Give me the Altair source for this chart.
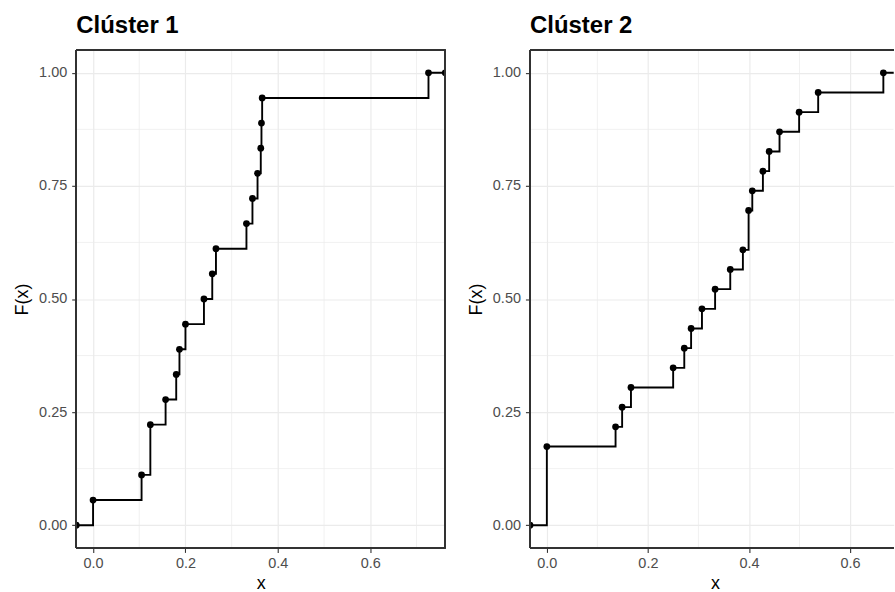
import altair as alt
import pandas as pd

# Sample values for each cluster
cluster1_values = [0.0, 0.105, 0.124, 0.124, 0.157, 0.180, 0.187, 0.200, 0.240,
                   0.258, 0.266, 0.332, 0.345, 0.356, 0.363, 0.3645, 0.366, 0.726]
cluster2_values = [0.0, 0.0, 0.0, 0.0, 0.136, 0.149, 0.1665, 0.250, 0.272, 0.2855,
                   0.307, 0.333, 0.363, 0.388, 0.3993, 0.3993, 0.4066, 0.4276,
                   0.440, 0.4605, 0.4993, 0.537, 0.666]
panel_titles = ["Clúster 1", "Clúster 2"]

x_major = [0.0, 0.2, 0.4, 0.6]
x_minor = [0.1, 0.3, 0.5, 0.7]
y_major = [0.0, 0.25, 0.5, 0.75, 1.0]
y_minor = [0.125, 0.375, 0.625, 0.875]

FONT = "Liberation Sans"
H = 499
BORDER = "#333333"


def ecdf_table(vals):
    s = sorted(vals)
    n = len(s)
    lo_v, hi_v = s[0], s[-1]
    ext = 0.05 * (hi_v - lo_v)
    lo, hi = lo_v - ext, hi_v + ext
    uniq = sorted(set(s))
    rows = [{"x": lo, "F": 0.0}]
    for u in uniq:
        rows.append({"x": u, "F": sum(1 for v in s if v <= u) / n})
    rows.append({"x": hi, "F": 1.0})
    return pd.DataFrame(rows), lo, hi


def panel(vals, title, full_width, shown_width):
    df, lo, hi = ecdf_table(vals)
    # the right panel is cut by the picture's edge, as in the reference
    x_max = lo + (hi - lo) * shown_width / full_width
    xs = alt.Scale(domain=[lo, x_max], nice=False, zero=False)
    ys = alt.Scale(domain=[-0.05, 1.05], nice=False, zero=False)
    x_axis = alt.Axis(values=x_major, format=".1f", title="x", domain=False,
                      tickSize=4.6, tickColor=BORDER, tickWidth=1.1,
                      labelFontSize=14.5, labelColor="#4D4D4D", labelFont=FONT,
                      labelPadding=4.3, titleFont=FONT, titleFontSize=18,
                      titleFontWeight="normal", titleColor="black",
                      titleX=full_width / 2, titleY=40.5, titleBaseline="alphabetic",
                      gridColor="#EBEBEB", gridWidth=1.2)
    y_axis = alt.Axis(values=y_major, format=".2f", title="F(x)", domain=False,
                      tickSize=4.6, tickColor=BORDER, tickWidth=1.1,
                      labelFontSize=14.5, labelColor="#4D4D4D", labelFont=FONT,
                      labelPadding=5, titleFont=FONT, titleFontSize=18,
                      titleFontWeight="normal", titleColor="black", titlePadding=7,
                      minExtent=38, maxExtent=38,
                      gridColor="#EBEBEB", gridWidth=1.2)
    minor_x = alt.Chart(pd.DataFrame({"x": x_minor})).mark_rule(
        color="#EBEBEB", strokeWidth=0.7, clip=True
    ).encode(x=alt.X("x:Q", scale=xs, axis=x_axis))
    minor_y = alt.Chart(pd.DataFrame({"F": y_minor})).mark_rule(
        color="#EBEBEB", strokeWidth=0.7, clip=True
    ).encode(y=alt.Y("F:Q", scale=ys, axis=y_axis))
    base = alt.Chart(df)
    line = base.mark_line(interpolate="step-after", color="black",
                          strokeWidth=1.9, clip=True).encode(
        x=alt.X("x:Q", scale=xs, axis=x_axis),
        y=alt.Y("F:Q", scale=ys, axis=y_axis),
    )
    pts = base.mark_circle(size=46, color="black", opacity=1, clip=True).encode(
        x=alt.X("x:Q", scale=xs, axis=x_axis), y=alt.Y("F:Q", scale=ys, axis=y_axis)
    )
    border = alt.Chart(df).mark_rule(color=BORDER, strokeWidth=1.3)
    layers = [
        minor_x, minor_y, line, pts,
        border.encode(x=alt.value(0), y=alt.value(0), y2=alt.value(H)),
        border.encode(x=alt.value(0), x2=alt.value(shown_width), y=alt.value(0)),
        border.encode(x=alt.value(0), x2=alt.value(shown_width), y=alt.value(H)),
    ]
    if shown_width >= full_width:
        layers.append(border.encode(x=alt.value(shown_width), y=alt.value(0),
                                    y2=alt.value(H)))
    return alt.layer(*layers).properties(
        width=shown_width, height=H,
        title=alt.TitleParams(title, anchor="start", frame="group", font=FONT,
                              fontSize=24, fontWeight="bold", color="black",
                              offset=-7, baseline="alphabetic"),
    )


p1 = panel(cluster1_values, panel_titles[0], 370, 370)
p2 = panel(cluster2_values, panel_titles[1], 371.2, 364.7)

chart = alt.hconcat(p1, p2, spacing=19).properties(
    padding={"left": 12.5, "top": 11.5, "right": 0, "bottom": 0},
    background="white",
).configure_view(stroke="transparent")

chart.save("out.html", embed_options={"renderer": "svg", "actions": False})
